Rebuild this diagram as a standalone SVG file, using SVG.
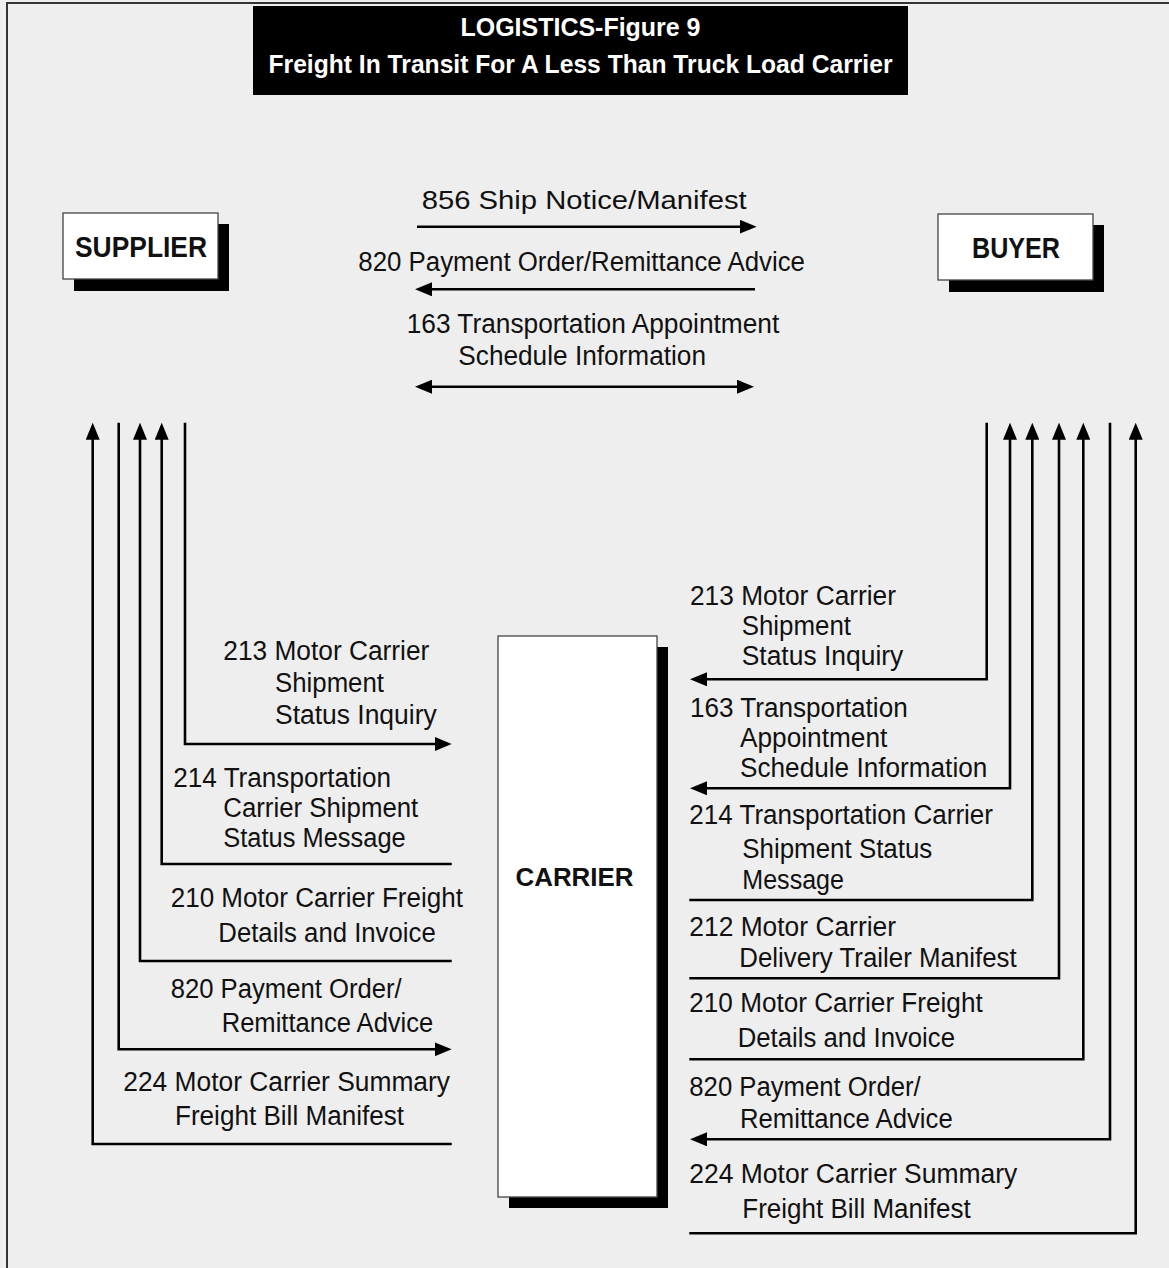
<svg xmlns="http://www.w3.org/2000/svg" width="1169" height="1268" viewBox="0 0 1169 1268">
<style>
.t{font-family:"Liberation Sans",Arial,sans-serif;font-size:27px;fill:#111}
.a{font-family:"Liberation Sans",Arial,sans-serif;font-size:25px;fill:#111}
.b{font-family:"Liberation Sans",Arial,sans-serif;font-weight:bold;fill:#111}
.h{font-family:"Liberation Sans",Arial,sans-serif;font-weight:bold;font-size:25px;fill:#fff}
.ln{fill:none;stroke:#000;stroke-width:2.6}
.box{fill:#fff;stroke:#444;stroke-width:1.3}
.sh{fill:#000}
</style>
<defs>
<marker id="ah" viewBox="0 0 17 14" refX="11" refY="7" markerWidth="17" markerHeight="14" markerUnits="userSpaceOnUse" orient="auto-start-reverse">
<path d="M0,0 L17,7 L0,14 z" fill="#000"/>
</marker>
</defs>
<rect x="0" y="0" width="1169" height="1268" fill="#eeeeee"/>
<rect x="7" y="3" width="1180" height="1280" fill="none" stroke="#333" stroke-width="2"/>

<g id="title">
<rect x="253" y="6" width="655" height="89" fill="#000"/>
<text class="h" x="580.5" y="36" text-anchor="middle" textLength="240" lengthAdjust="spacingAndGlyphs">LOGISTICS-Figure 9</text>
<text class="h" x="580.5" y="73" text-anchor="middle" textLength="624" lengthAdjust="spacingAndGlyphs">Freight In Transit For A Less Than Truck Load Carrier</text>
</g>

<g id="supplier">
<rect class="sh" x="74" y="224" width="155" height="67"/>
<rect class="box" x="63" y="213" width="155" height="66"/>
<text class="b" x="75" y="257" font-size="29" textLength="132" lengthAdjust="spacingAndGlyphs">SUPPLIER</text>
</g>

<g id="buyer">
<rect class="sh" x="949" y="225" width="155" height="67"/>
<rect class="box" x="938" y="214" width="155" height="66"/>
<text class="b" x="972" y="258" font-size="29" textLength="88" lengthAdjust="spacingAndGlyphs">BUYER</text>
</g>

<g id="carrier">
<rect class="sh" x="509" y="647" width="159" height="561"/>
<rect class="box" x="498" y="636" width="159" height="561"/>
<text class="b" x="574.5" y="886" font-size="25" text-anchor="middle" textLength="118" lengthAdjust="spacingAndGlyphs">CARRIER</text>
</g>

<g id="connectors">
<!-- top -->
<line class="ln" x1="417" y1="226.7" x2="750.7" y2="226.7" marker-end="url(#ah)"/>
<line class="ln" x1="755" y1="289.3" x2="421" y2="289.3" marker-end="url(#ah)"/>
<line class="ln" x1="421" y1="386.7" x2="748" y2="386.7" marker-start="url(#ah)" marker-end="url(#ah)"/>
<!-- left -->
<polyline class="ln" points="185,422.7 185,744 445.7,744" marker-end="url(#ah)"/>
<polyline class="ln" points="451.7,864 161.7,864 161.7,428.7" marker-end="url(#ah)"/>
<polyline class="ln" points="451.7,961 140,961 140,428.7" marker-end="url(#ah)"/>
<polyline class="ln" points="118.7,422.7 118.7,1049.3 445.7,1049.3" marker-end="url(#ah)"/>
<polyline class="ln" points="451.7,1144 92.7,1144 92.7,428.7" marker-end="url(#ah)"/>
<!-- right -->
<polyline class="ln" points="986.7,422.7 986.7,679.3 696,679.3" marker-end="url(#ah)"/>
<polyline class="ln" points="696,788.3 1010,788.3 1010,428.7" marker-start="url(#ah)" marker-end="url(#ah)"/>
<polyline class="ln" points="689.3,900 1032.3,900 1032.3,428.7" marker-end="url(#ah)"/>
<polyline class="ln" points="689.3,978.3 1059,978.3 1059,428.7" marker-end="url(#ah)"/>
<polyline class="ln" points="689.3,1059.3 1083.3,1059.3 1083.3,428.7" marker-end="url(#ah)"/>
<polyline class="ln" points="1110,422.7 1110,1139.3 696,1139.3" marker-end="url(#ah)"/>
<polyline class="ln" points="689.3,1233.3 1135.7,1233.3 1135.7,428.7" marker-end="url(#ah)"/>
</g>

<g id="labels-top">
<text class="a" x="421.7" y="209" textLength="325" lengthAdjust="spacingAndGlyphs">856 Ship Notice/Manifest</text>
<text class="t" x="358.3" y="270.7" textLength="446.7" lengthAdjust="spacingAndGlyphs">820 Payment Order/Remittance Advice</text>
<text class="t" x="406.7" y="333.3" textLength="372.6" lengthAdjust="spacingAndGlyphs">163 Transportation Appointment</text>
<text class="t" x="458.3" y="365" textLength="247.7" lengthAdjust="spacingAndGlyphs">Schedule Information</text>
</g>

<g id="labels-left">
<text class="t" x="223.3" y="660" textLength="206" lengthAdjust="spacingAndGlyphs">213 Motor Carrier</text>
<text class="t" x="275" y="691.7" textLength="109" lengthAdjust="spacingAndGlyphs">Shipment</text>
<text class="t" x="275" y="724" textLength="161.7" lengthAdjust="spacingAndGlyphs">Status Inquiry</text>
<text class="t" x="173.3" y="786.7" textLength="217.7" lengthAdjust="spacingAndGlyphs">214 Transportation</text>
<text class="t" x="223.3" y="817.3" textLength="195" lengthAdjust="spacingAndGlyphs">Carrier Shipment</text>
<text class="t" x="223.3" y="847.3" textLength="182.4" lengthAdjust="spacingAndGlyphs">Status Message</text>
<text class="t" x="170.7" y="906.7" textLength="292.3" lengthAdjust="spacingAndGlyphs">210 Motor Carrier Freight</text>
<text class="t" x="218.3" y="941.7" textLength="217.4" lengthAdjust="spacingAndGlyphs">Details and Invoice</text>
<text class="t" x="170.7" y="998.3" textLength="231" lengthAdjust="spacingAndGlyphs">820 Payment Order/</text>
<text class="t" x="221.7" y="1031.7" textLength="211.6" lengthAdjust="spacingAndGlyphs">Remittance Advice</text>
<text class="t" x="123.3" y="1090.7" textLength="326.7" lengthAdjust="spacingAndGlyphs">224 Motor Carrier Summary</text>
<text class="t" x="175" y="1125" textLength="229" lengthAdjust="spacingAndGlyphs">Freight Bill Manifest</text>
</g>

<g id="labels-right">
<text class="t" x="690" y="605" textLength="206" lengthAdjust="spacingAndGlyphs">213 Motor Carrier</text>
<text class="t" x="741.7" y="635" textLength="109.3" lengthAdjust="spacingAndGlyphs">Shipment</text>
<text class="t" x="741.7" y="665" textLength="161.6" lengthAdjust="spacingAndGlyphs">Status Inquiry</text>
<text class="t" x="690" y="716.7" textLength="217.7" lengthAdjust="spacingAndGlyphs">163 Transportation</text>
<text class="t" x="740" y="747.3" textLength="147.3" lengthAdjust="spacingAndGlyphs">Appointment</text>
<text class="t" x="740" y="777.3" textLength="247.3" lengthAdjust="spacingAndGlyphs">Schedule Information</text>
<text class="t" x="689.3" y="824.3" textLength="303.7" lengthAdjust="spacingAndGlyphs">214 Transportation Carrier</text>
<text class="t" x="742.3" y="857.7" textLength="190" lengthAdjust="spacingAndGlyphs">Shipment Status</text>
<text class="t" x="742.3" y="889.3" textLength="101.7" lengthAdjust="spacingAndGlyphs">Message</text>
<text class="t" x="689.3" y="935.7" textLength="206.7" lengthAdjust="spacingAndGlyphs">212 Motor Carrier</text>
<text class="t" x="739.3" y="966.7" textLength="277.4" lengthAdjust="spacingAndGlyphs">Delivery Trailer Manifest</text>
<text class="t" x="689.3" y="1011.7" textLength="293.4" lengthAdjust="spacingAndGlyphs">210 Motor Carrier Freight</text>
<text class="t" x="737.7" y="1047.3" textLength="217.3" lengthAdjust="spacingAndGlyphs">Details and Invoice</text>
<text class="t" x="689.3" y="1096" textLength="231.4" lengthAdjust="spacingAndGlyphs">820 Payment Order/</text>
<text class="t" x="740" y="1128.3" textLength="212.7" lengthAdjust="spacingAndGlyphs">Remittance Advice</text>
<text class="t" x="689.3" y="1182.7" textLength="328" lengthAdjust="spacingAndGlyphs">224 Motor Carrier Summary</text>
<text class="t" x="742.3" y="1218.3" textLength="228.4" lengthAdjust="spacingAndGlyphs">Freight Bill Manifest</text>
</g>
</svg>
